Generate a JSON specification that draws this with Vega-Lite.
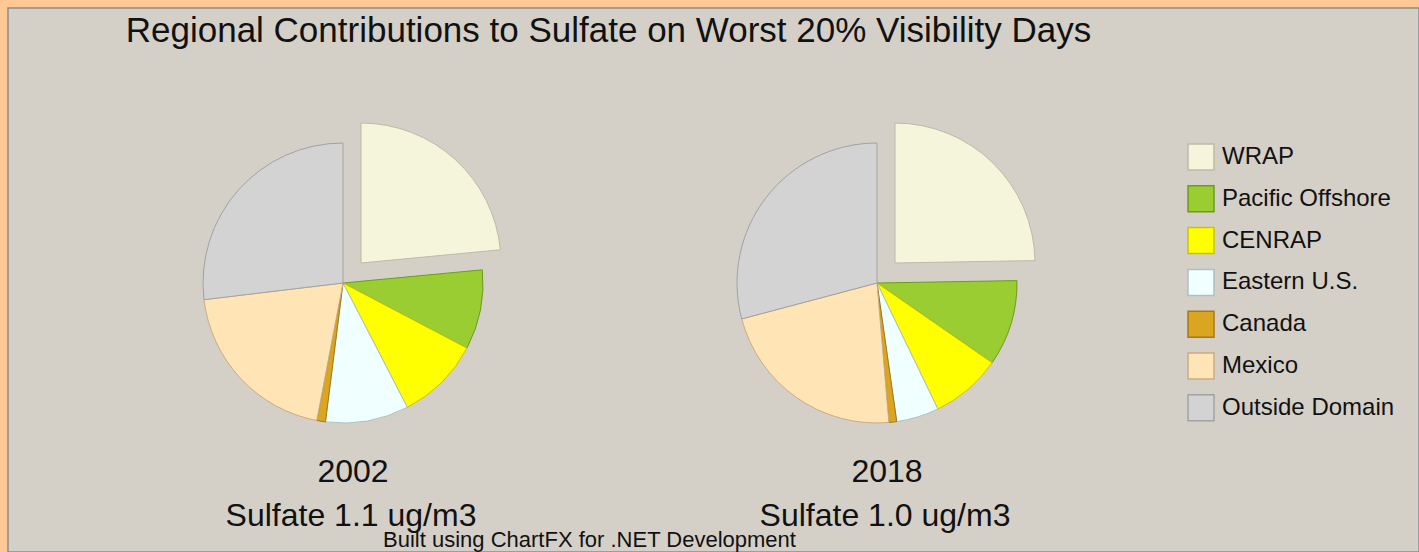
{
  "$schema": "https://vega.github.io/schema/vega-lite/v6.json",
  "width": 1419,
  "height": 552,
  "autosize": {"type": "fit", "contains": "padding"},
  "padding": {"left": 8, "top": 8, "right": 0, "bottom": 0},
  "background": "#FFC894",
  "view": {"fill": "#D4D0C8", "stroke": "#8C8C8C", "strokeWidth": 1.5},
  "config": {
    "view": {"fill": "#D4D0C8", "stroke": "#8C8C8C", "strokeWidth": 1.5},
    "font": "Liberation Sans"
  },
  "datasets": {
    "slices": [
      {"year": "2002", "region": "WRAP", "share": 23.5},
      {"year": "2002", "region": "Pacific Offshore", "share": 9.2},
      {"year": "2002", "region": "CENRAP", "share": 9.7},
      {"year": "2002", "region": "Eastern U.S.", "share": 9.6},
      {"year": "2002", "region": "Canada", "share": 1.0},
      {"year": "2002", "region": "Mexico", "share": 20.1},
      {"year": "2002", "region": "Outside Domain", "share": 26.9},
      {"year": "2018", "region": "WRAP", "share": 24.7},
      {"year": "2018", "region": "Pacific Offshore", "share": 9.9},
      {"year": "2018", "region": "CENRAP", "share": 8.2},
      {"year": "2018", "region": "Eastern U.S.", "share": 4.9},
      {"year": "2018", "region": "Canada", "share": 0.9},
      {"year": "2018", "region": "Mexico", "share": 22.2},
      {"year": "2018", "region": "Outside Domain", "share": 29.1}
    ],
    "totals": [
      {"year": "2002", "total": "Sulfate 1.1 ug/m3"},
      {"year": "2018", "total": "Sulfate 1.0 ug/m3"}
    ],
    "notes": [
      {"title": "Regional Contributions to Sulfate on Worst 20% Visibility Days", "footer": "Built using ChartFX for .NET Development"}
    ]
  },
  "layer": [
    {
      "data": {"name": "slices"},
      "transform": [
        {"stack": "share", "groupby": ["year"], "offset": "normalize", "as": ["v0", "v1"]},
        {"filter": "datum.region !== 'WRAP'"}
      ],
      "mark": {"type": "arc", "radius": 140, "strokeWidth": 1, "yOffset": 3},
      "encoding": {
        "x": {"field": "year", "type": "nominal", "scale": {"type": "point", "domain": ["2002", "2018"], "range": [335, 869], "padding": 0}, "axis": null},
        "theta": {"field": "v0", "type": "quantitative", "scale": {"domain": [0, 1]}},
        "theta2": {"field": "v1"},
        "fill": {
          "field": "region", "type": "nominal",
          "scale": {
            "domain": ["WRAP", "Pacific Offshore", "CENRAP", "Eastern U.S.", "Canada", "Mexico", "Outside Domain"],
            "range": ["#F5F5DC", "#9ACD32", "#FFFF00", "#F0FFFF", "#DAA520", "#FFE4B5", "#D3D3D3"]
          },
          "legend": {"orient": "none", "legendX": 1179, "legendY": 135, "title": null, "symbolType": "square", "symbolSize": 676, "symbolStrokeWidth": 1.5, "labelFontSize": 24, "labelFont": "Liberation Sans", "labelColor": "#111111", "labelOffset": 7, "rowPadding": 9.8, "padding": 0, "labelLimit": 300}
        },
        "stroke": {
          "field": "region", "type": "nominal",
          "scale": {
            "domain": ["WRAP", "Pacific Offshore", "CENRAP", "Eastern U.S.", "Canada", "Mexico", "Outside Domain"],
            "range": ["#BDBBA2", "#6E9A22", "#C9C400", "#AFC0C2", "#A77A12", "#C9AC86", "#A2A2A2"]
          },
          "legend": {"orient": "none", "legendX": 1179, "legendY": 135, "title": null, "symbolType": "square", "symbolSize": 676, "symbolStrokeWidth": 1.5, "labelFontSize": 24, "labelFont": "Liberation Sans", "labelColor": "#111111", "labelOffset": 7, "rowPadding": 9.8, "padding": 0, "labelLimit": 300}
        }
      }
    },
    {
      "data": {"name": "slices"},
      "transform": [
        {"stack": "share", "groupby": ["year"], "offset": "normalize", "as": ["v0", "v1"]},
        {"filter": "datum.region === 'WRAP'"}
      ],
      "mark": {"type": "arc", "radius": 140, "strokeWidth": 1, "xOffset": 18, "yOffset": -17},
      "encoding": {
        "x": {"field": "year", "type": "nominal", "axis": null},
        "theta": {"field": "v0", "type": "quantitative"},
        "theta2": {"field": "v1"},
        "fill": {"field": "region", "type": "nominal"},
        "stroke": {"field": "region", "type": "nominal"}
      }
    },
    {
      "data": {"name": "totals"},
      "mark": {"type": "text", "fontSize": 32, "baseline": "alphabetic", "dy": 202, "dx": 10, "color": "#111111", "font": "Liberation Sans"},
      "encoding": {
        "x": {"field": "year", "type": "nominal", "axis": null},
        "text": {"field": "year", "type": "nominal"}
      }
    },
    {
      "data": {"name": "totals"},
      "mark": {"type": "text", "fontSize": 32, "baseline": "alphabetic", "dy": 246, "dx": 8, "color": "#111111", "font": "Liberation Sans"},
      "encoding": {
        "x": {"field": "year", "type": "nominal", "axis": null},
        "text": {"field": "total", "type": "nominal"}
      }
    },
    {
      "data": {"name": "notes"},
      "mark": {"type": "text", "fontSize": 35, "baseline": "alphabetic", "dy": -238, "dx": -105, "color": "#111111", "font": "Liberation Sans"},
      "encoding": {
        "text": {"field": "title", "type": "nominal"}
      }
    },
    {
      "data": {"name": "notes"},
      "mark": {"type": "text", "fontSize": 22, "baseline": "alphabetic", "dy": 267, "dx": -124, "color": "#111111", "font": "Liberation Sans"},
      "encoding": {
        "text": {"field": "footer", "type": "nominal"}
      }
    }
  ]
}
